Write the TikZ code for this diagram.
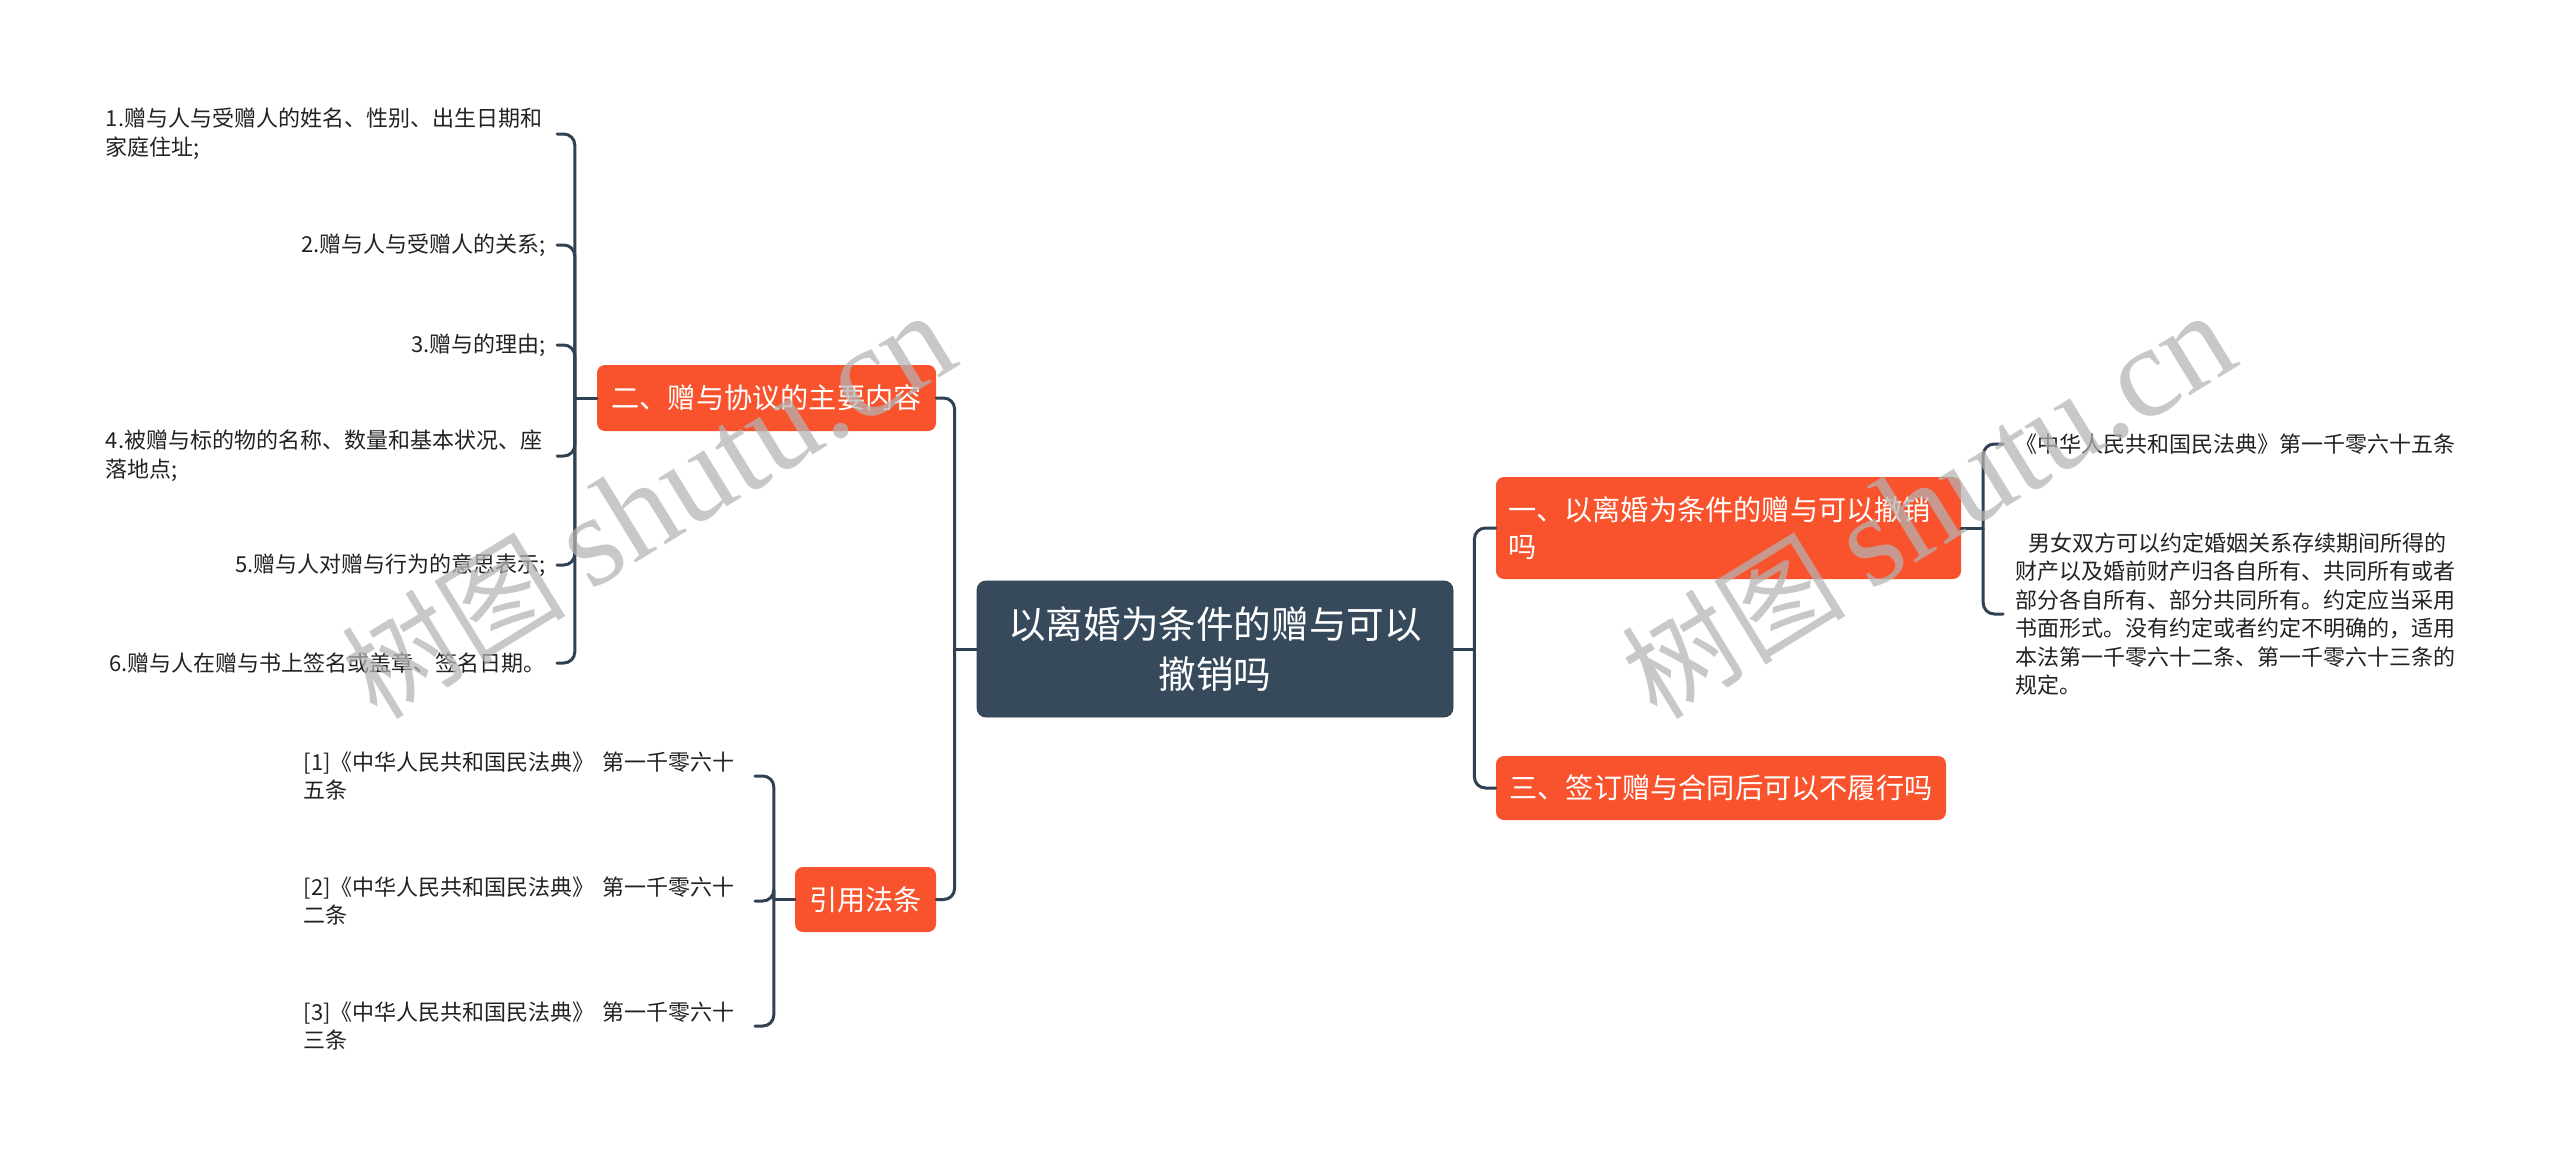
\documentclass[tikz,border=0pt]{standalone}
\usepackage{fontspec}
\setmainfont{Noto Sans CJK SC}
\newfontfamily\wmserif{Liberation Serif}
\usetikzlibrary{calc}
\definecolor{rootc}{HTML}{374A5C}
\definecolor{orangec}{HTML}{F9532D}
\definecolor{linec}{HTML}{2F4152}
\definecolor{leafc}{HTML}{222222}
\definecolor{wmc}{HTML}{B4B4B4}
\begin{document}
\begin{tikzpicture}[x=1pt,y=-1pt,
  conn/.style={draw=linec, line width=3pt, rounded corners=11pt, line cap=round},
  rootbox/.style={fill=rootc, draw=rootc!85!black, line width=0.8pt, rounded corners=9pt, text=white,
    font={\fontsize{37.6}{50}\selectfont}, align=center, minimum width=476pt, minimum height=136pt, inner sep=0pt},
  mainbox/.style={fill=orangec, rounded corners=8pt, text=white,
    font={\fontsize{28.2}{37}\selectfont}, inner sep=0pt},
  leaf/.style={text=leafc, font={\fontsize{22}{28.5}\selectfont}, inner xsep=11pt, inner ysep=2pt},
  wm/.style={text=wmc, text opacity=0.72, font={\fontsize{112}{112}\selectfont}, inner sep=0pt}
]
\useasboundingbox (0,0) rectangle (2560,1159);
\fill[white] (0,0) rectangle (2560,1159);

% central and main topics
\node[rootbox] (root) at (1215,649) {以离婚为条件的赠与可以\\撤销吗};
\node[mainbox, minimum width=339pt, minimum height=66pt] (b2) at (766.5,398) {二、赠与协议的主要内容};
\node[mainbox, minimum width=141pt, minimum height=65pt] (yy) at (865.5,899.5) {引用法条};
\node[mainbox, text width=441pt, inner xsep=12pt, minimum height=102pt, align=left] (b1) at (1728.5,528) {一、以离婚为条件的赠与可以撤销\\吗};
\node[mainbox, minimum width=450pt, minimum height=64pt] (b3) at (1721,788) {三、签订赠与合同后可以不履行吗};

% left leaves of b2
\node[leaf, anchor=east, text width=440pt, align=left] (l1) at (557,134) {1.赠与人与受赠人的姓名、性别、出生日期和\\家庭住址;};
\node[leaf, anchor=east] (l2) at (557,245) {2.赠与人与受赠人的关系;};
\node[leaf, anchor=east] (l3) at (557,345) {3.赠与的理由;};
\node[leaf, anchor=east, text width=440pt, align=left] (l4) at (557,456) {4.被赠与标的物的名称、数量和基本状况、座\\落地点;};
\node[leaf, anchor=east] (l5) at (557,565) {5.赠与人对赠与行为的意思表示;};
\node[leaf, anchor=east] (l6) at (557,663) {6.赠与人在赠与书上签名或盖章、签名日期。};

% left leaves of yy
\node[leaf, anchor=east, text width=440pt, align=left] (c1) at (755,776) {[1]《中华人民共和国民法典》 第一千零六十\\五条};
\node[leaf, anchor=east, text width=440pt, align=left] (c2) at (755,901) {[2]《中华人民共和国民法典》 第一千零六十\\二条};
\node[leaf, anchor=east, text width=440pt, align=left] (c3) at (755,1026) {[3]《中华人民共和国民法典》 第一千零六十\\三条};

% right leaves of b1
\node[leaf, anchor=west, inner xsep=12pt] (r1) at (2003,444) {《中华人民共和国民法典》第一千零六十五条};
\node[leaf, anchor=west, inner xsep=12pt, align=left] (r2) at (2003,614) {\hspace*{13pt}男女双方可以约定婚姻关系存续期间所得的\\财产以及婚前财产归各自所有、共同所有或者\\部分各自所有、部分共同所有。约定应当采用\\书面形式。没有约定或者约定不明确的，适用\\本法第一千零六十二条、第一千零六十三条的\\规定。};

% connectors
\coordinate (jl) at ($(root.west)+(-22,0)$);
\coordinate (jr) at ($(root.east)+(21,0)$);
\coordinate (j2) at ($(b2.west)+(-22,0)$);
\coordinate (jy) at ($(yy.west)+(-21,0)$);
\coordinate (j1) at ($(b1.east)+(22,0)$);

\draw[conn] (root.west) -- (jl);
\draw[conn] (jl) |- (b2.east);
\draw[conn] (jl) |- (yy.east);
\draw[conn] (root.east) -- (jr);
\draw[conn] (jr) |- (b1.west);
\draw[conn] (jr) |- (b3.west);

\draw[conn] (b2.west) -- (j2);
\foreach \n in {l1,l2,l3,l4,l5,l6} \draw[conn] (j2) |- (\n.east);
\draw[conn] (yy.west) -- (jy);
\foreach \n in {c1,c2,c3} \draw[conn] (jy) |- (\n.east);
\draw[conn] (b1.east) -- (j1);
\foreach \n in {r1,r2} \draw[conn] (j1) |- (\n.west);

% watermarks
\node[wm, rotate=31.5] (wm1) at (648,506) {树图 {\wmserif\fontsize{130}{130}\selectfont shutu.cn}};
\node[wm, rotate=31.5] (wm2) at (1928,506) {树图 {\wmserif\fontsize{130}{130}\selectfont shutu.cn}};
\end{tikzpicture}
\end{document}
